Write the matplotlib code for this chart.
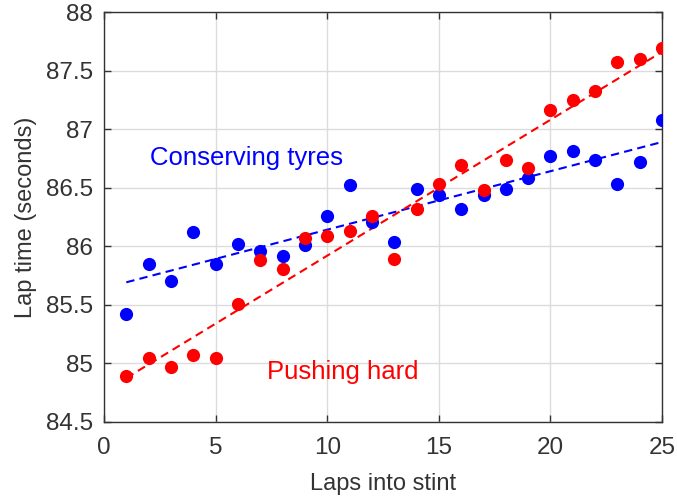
import numpy as np
import matplotlib
matplotlib.use("Agg")
import matplotlib.pyplot as plt

plt.rcParams['font.family'] = ['Liberation Sans', 'DejaVu Sans']

# lap numbers and lap times
laps = list(range(1, 26))
conserving = [85.42, 85.85, 85.70, 86.12, 85.85, 86.02, 85.96, 85.92, 86.01, 86.26,
              86.52, 86.21, 86.04, 86.49, 86.44, 86.32, 86.44, 86.49, 86.58, 86.77,
              86.81, 86.74, 86.53, 86.72, 87.08]
pushing = [84.89, 85.05, 84.97, 85.07, 85.05, 85.51, 85.88, 85.81, 86.07, 86.09,
           86.13, 86.26, 85.89, 86.32, 86.53, 86.69, 86.48, 86.74, 86.67, 87.16,
           87.25, 87.33, 87.57, 87.60, 87.69]

x = np.array(laps)
fig = plt.figure(figsize=(6.77, 5.01), dpi=100)
ax = fig.add_axes([0.1536, 0.1577, 0.8244, 0.8183])

# linear fits (dashed)
for y, col in [(conserving, 'blue'), (pushing, 'red')]:
    p = np.polyfit(x, y, 1)
    ax.plot(x, np.polyval(p, x), '--', color=col, lw=1.5, dashes=(4, 2.5), zorder=2)

ax.plot(x, conserving, 'o', color='blue', ms=9.5, mec='none', zorder=3)
ax.plot(x, pushing, 'o', color='red', ms=9.5, mec='none', zorder=3)

ax.text(6.38, 86.75, 'Conserving tyres', color='blue', fontsize=18.5, ha='center', va='center')
ax.text(10.7, 84.93, 'Pushing hard', color='red', fontsize=18.5, ha='center', va='center')

ax.set_xlim(0, 25)
ax.set_ylim(84.5, 88)
ax.set_xticks([0, 5, 10, 15, 20, 25])
ax.set_yticks([84.5, 85, 85.5, 86, 86.5, 87, 87.5, 88])
ax.set_yticklabels(['84.5', '85', '85.5', '86', '86.5', '87', '87.5', '88'])
ax.grid(True, color='#dcdcdc', lw=1)
ax.set_axisbelow(True)
ax.tick_params(direction='in', top=True, right=True, length=5, width=1,
               labelsize=17.5, colors='#333333', pad=8)
ax.tick_params(axis='x', pad=11)
for s in ax.spines.values():
    s.set_color('#333333')
    s.set_linewidth(1)
ax.set_xlabel('Laps into stint', fontsize=17, color='#333333', labelpad=10)
ax.set_ylabel('Lap time (seconds)', fontsize=17, color='#333333', labelpad=6)

fig.savefig('out.png', dpi=100)
